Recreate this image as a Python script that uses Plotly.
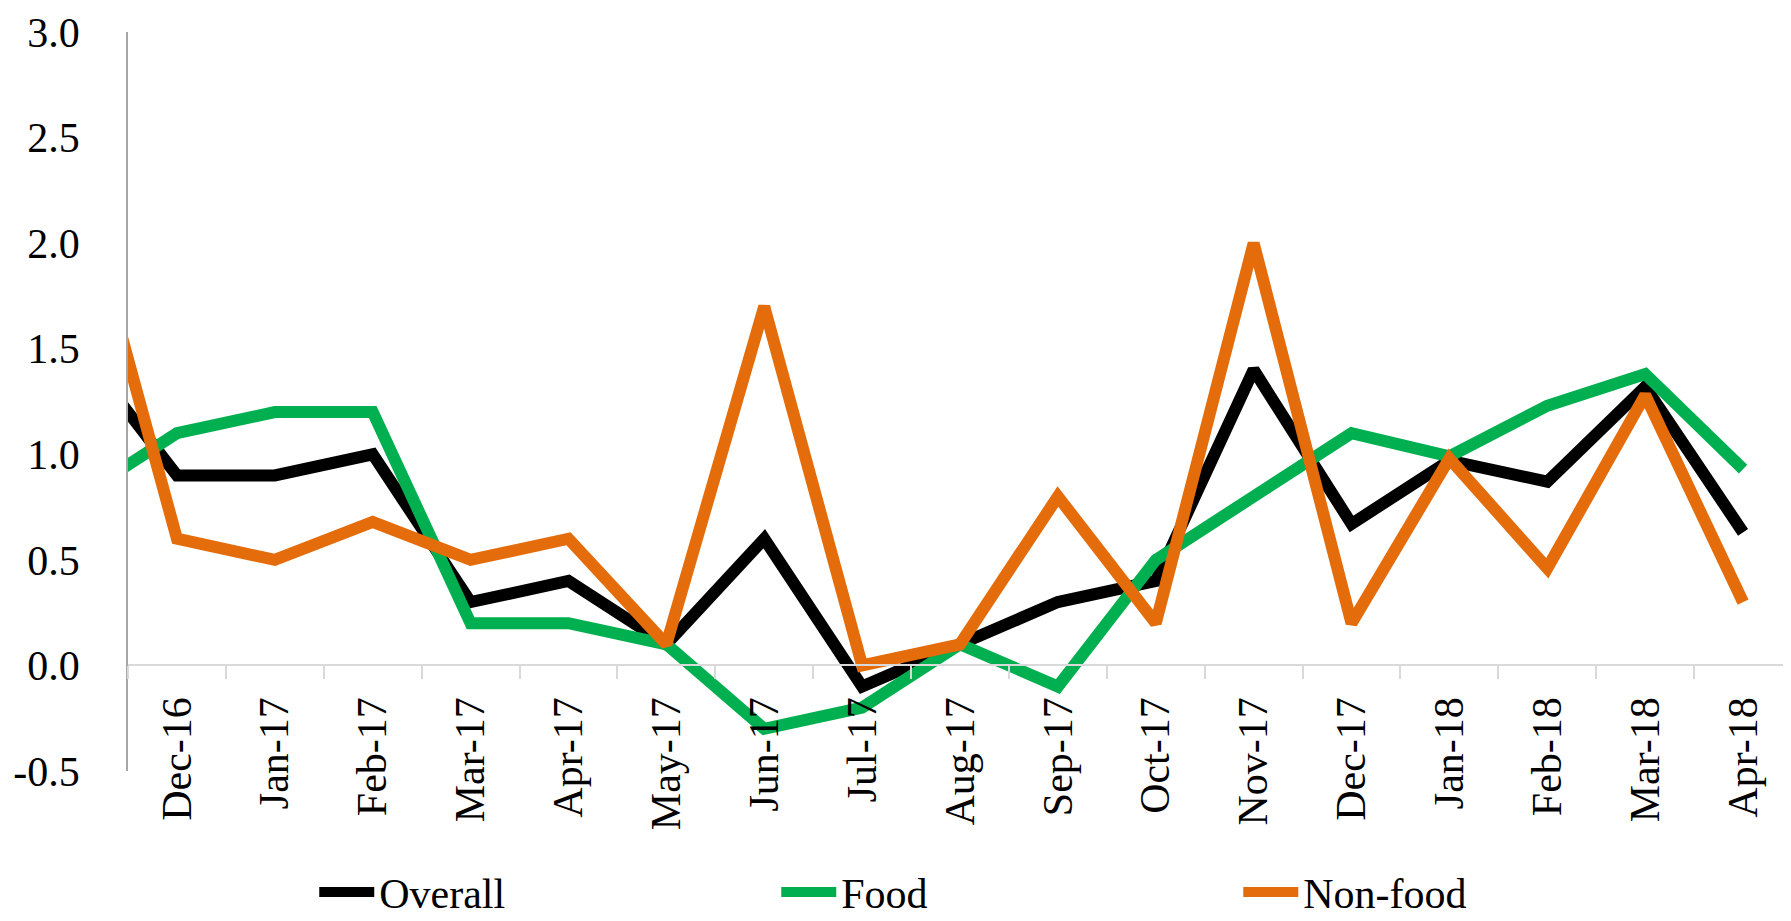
import plotly.graph_objects as go

FONT = "Liberation Serif"

months = ["Nov-16", "Dec-16", "Jan-17", "Feb-17", "Mar-17", "Apr-17", "May-17",
          "Jun-17", "Jul-17", "Aug-17", "Sep-17", "Oct-17", "Nov-17", "Dec-17",
          "Jan-18", "Feb-18", "Mar-18", "Apr-18"]

overall = [1.5, 0.9, 0.9, 1.0, 0.3, 0.4, 0.1, 0.6, -0.1, 0.1, 0.3, 0.4,
           1.4, 0.67, 0.97, 0.87, 1.32, 0.63]
food = [0.8, 1.1, 1.2, 1.2, 0.2, 0.2, 0.1, -0.3, -0.2, 0.1, -0.1, 0.5,
        0.8, 1.1, 0.99, 1.23, 1.38, 0.93]
non_food = [2.3, 0.6, 0.5, 0.68, 0.5, 0.6, 0.1, 1.7, 0.0, 0.1, 0.8, 0.2,
            2.0, 0.2, 0.98, 0.46, 1.28, 0.3]

y_ticks = [-0.5, 0.0, 0.5, 1.0, 1.5, 2.0, 2.5, 3.0]

series = [
    ("Overall", overall, "#000000"),
    ("Food", food, "#00B050"),
    ("Non-food", non_food, "#E46C0A"),
]

fig = go.Figure()
for name, vals, color in series:
    fig.add_trace(go.Scatter(
        x=months, y=vals, name=name, mode="lines",
        line=dict(color=color, width=12),
    ))

fig.update_layout(
    width=1791, height=921,
    margin=dict(l=120, r=7, t=24, b=158, autoexpand=False),
    paper_bgcolor="white", plot_bgcolor="white",
    font=dict(family=FONT, size=42, color="black"),
    showlegend=True,
    legend=dict(
        orientation="h", xref="container", yref="container",
        x=0.171, xanchor="left", y=0.04, yanchor="middle",
        entrywidth=392, entrywidthmode="pixels", itemwidth=55,
        font=dict(family=FONT, size=42), bgcolor="rgba(0,0,0,0)",
    ),
)

fig.update_xaxes(
    type="category", range=[0.5, 17.5],
    anchor="free", position=1 / 7, automargin=False,
    showline=True, linecolor="#D9D9D9", linewidth=2,
    ticks="outside", tickson="boundaries", ticklen=13,
    tickcolor="#D9D9D9", tickwidth=2,
    tickangle=-90, ticklabelstandoff=14,
    showgrid=False, zeroline=False,
)
fig.update_yaxes(
    range=[-0.5, 3.0], automargin=False,
    tickmode="array", tickvals=y_ticks,
    ticktext=[f"{v:.1f}" for v in y_ticks],
    showline=True, linecolor="#A6A6A6", linewidth=1.5,
    ticks="", ticklabelstandoff=38,
    showgrid=False, zeroline=False,
)

fig.write_html("out.html")
